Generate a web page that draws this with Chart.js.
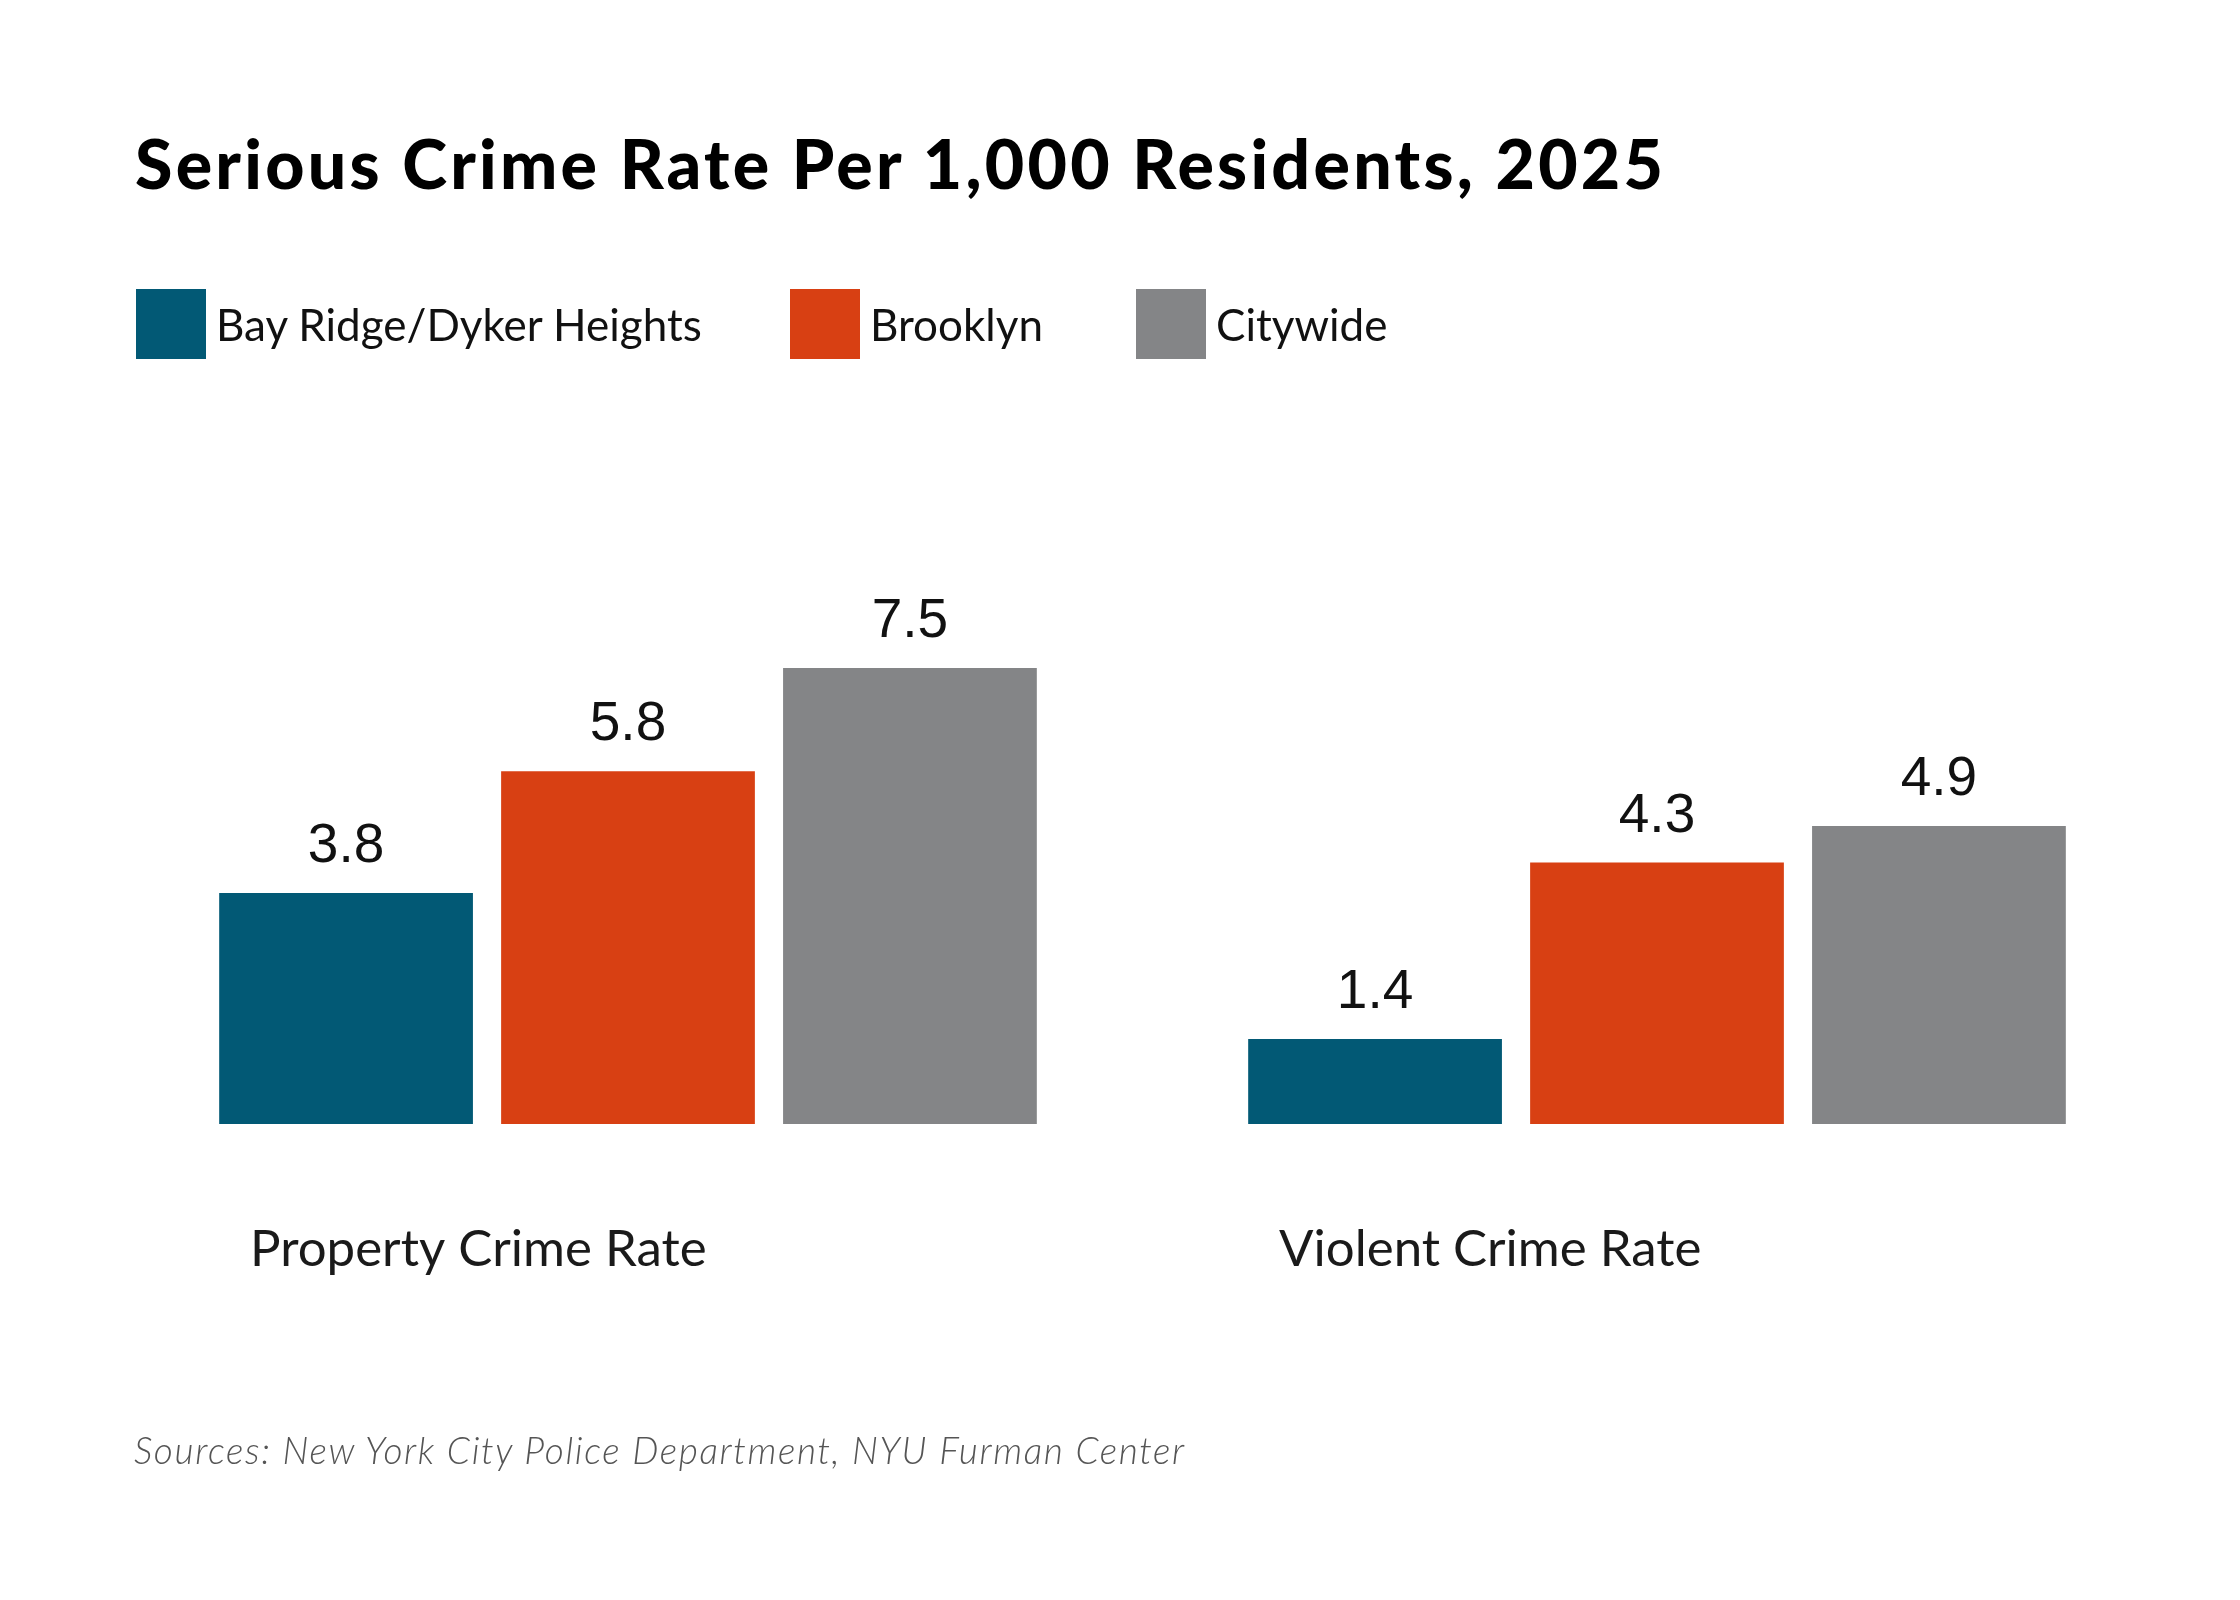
<!DOCTYPE html>
<html>
<head>
<meta charset="utf-8">
<script src="https://cdn.jsdelivr.net/npm/chart.js@4.4.1/dist/chart.umd.min.js"></script>
<style>
  html, body { margin: 0; padding: 0; background: #ffffff; }
  #wrap { position: relative; width: 2240px; height: 1600px; overflow: hidden; background: #ffffff; }
  #ChartCanvas { position: absolute; left: 0; top: 0; }
  .title { position: absolute; left: 135px; top: 129px; font-family: Lato, sans-serif; font-weight: 900; font-size: 68px; line-height: 1; color: #000; white-space: nowrap; }
  .legend-item { position: absolute; top: 289px; height: 70px; display: flex; align-items: center; font-family: Lato, sans-serif; font-size: 44px; line-height: 1; color: #111; white-space: nowrap; }
  .legend-item .box { width: 70px; height: 70px; margin-right: 10px; }
  .source { position: absolute; left: 134px; top: 1431px; font-family: Lato, sans-serif; font-style: italic; font-weight: 300; font-size: 37px; line-height: 1; color: #555; white-space: nowrap; }
</style>
</head>
<body>
<div id="wrap">
  <canvas id="ChartCanvas" width="2240" height="1600"></canvas>
  <div class="title" id="title">Serious Crime Rate Per 1,000 Residents, 2025</div>
  <div id="legend"></div>
  <div class="source" id="source">Sources: New York City Police Department, NYU Furman Center</div>
</div>
<script>
// Chart data
const categories = ['Property Crime Rate', 'Violent Crime Rate'];
const seriesNames = ['Bay Ridge/Dyker Heights', 'Brooklyn', 'Citywide'];
const bayRidgeValues = [3.8, 1.4];
const brooklynValues = [5.8, 4.3];
const citywideValues = [7.5, 4.9];

// Styling
const seriesColors = ['#025975', '#D84013', '#848587'];
const legendLeft = [136, 790, 1136];

Initialize();

// Stretch a text line to the width it has in the original
function fitWidth(el, target)
{
    const text = el.textContent;
    const natural = el.getBoundingClientRect().width;
    const spacing = (target - natural) / (text.length - 1);
    el.style.letterSpacing = spacing.toFixed(2) + 'px';
}

function Initialize()
{
    fitWidth(document.getElementById('title'), 1528);
    fitWidth(document.getElementById('source'), 1050);

    // Build legend from series names
    const legend = document.getElementById('legend');
    seriesNames.forEach(function(name, i) {
        const item = document.createElement('div');
        item.className = 'legend-item';
        item.style.left = legendLeft[i] + 'px';
        const box = document.createElement('span');
        box.className = 'box';
        box.style.background = seriesColors[i];
        const label = document.createElement('span');
        label.textContent = name;
        item.appendChild(box);
        item.appendChild(label);
        legend.appendChild(item);
    });

    // Value labels above each bar
    const valueLabels = {
        id: 'valueLabels',
        afterDatasetsDraw(chart) {
            const ctx = chart.ctx;
            ctx.save();
            ctx.font = '55px "Liberation Sans", Arial, sans-serif';
            ctx.fillStyle = '#111111';
            ctx.textAlign = 'center';
            ctx.textBaseline = 'alphabetic';
            chart.data.datasets.forEach(function(ds, di) {
                const meta = chart.getDatasetMeta(di);
                meta.data.forEach(function(bar, i) {
                    ctx.fillText(ds.data[i].toFixed(1), bar.x, bar.y - 31);
                });
            });
            ctx.restore();
        }
    };

    const allSeries = [bayRidgeValues, brooklynValues, citywideValues];

    const ctx = document.getElementById('ChartCanvas').getContext('2d');
    new Chart(ctx, {
        type: 'bar',
        data: {
            labels: categories,
            datasets: allSeries.map(function(values, i) {
                return {
                    label: seriesNames[i],
                    data: values,
                    backgroundColor: seriesColors[i],
                    borderWidth: 0,
                    categoryPercentage: 0.822,
                    barPercentage: 0.9
                };
            })
        },
        options: {
            responsive: false,
            devicePixelRatio: 1,
            animation: false,
            layout: {
                padding: { left: 113.5, right: 68.5, top: 516, bottom: 276 }
            },
            plugins: {
                legend: { display: false },
                title: { display: false },
                tooltip: { enabled: false }
            },
            scales: {
                y: {
                    display: false,
                    min: 0,
                    max: 10
                },
                x: {
                    grid: { display: false, drawTicks: false },
                    border: { display: false },
                    ticks: {
                        font: { family: 'Lato', size: 51 },
                        color: '#1a1a1a',
                        align: 'start',
                        labelOffset: -378,
                        padding: 95
                    },
                    afterFit: function(scale) { scale.height = 200; }
                }
            }
        },
        plugins: [valueLabels]
    });
}
</script>
</body>
</html>
